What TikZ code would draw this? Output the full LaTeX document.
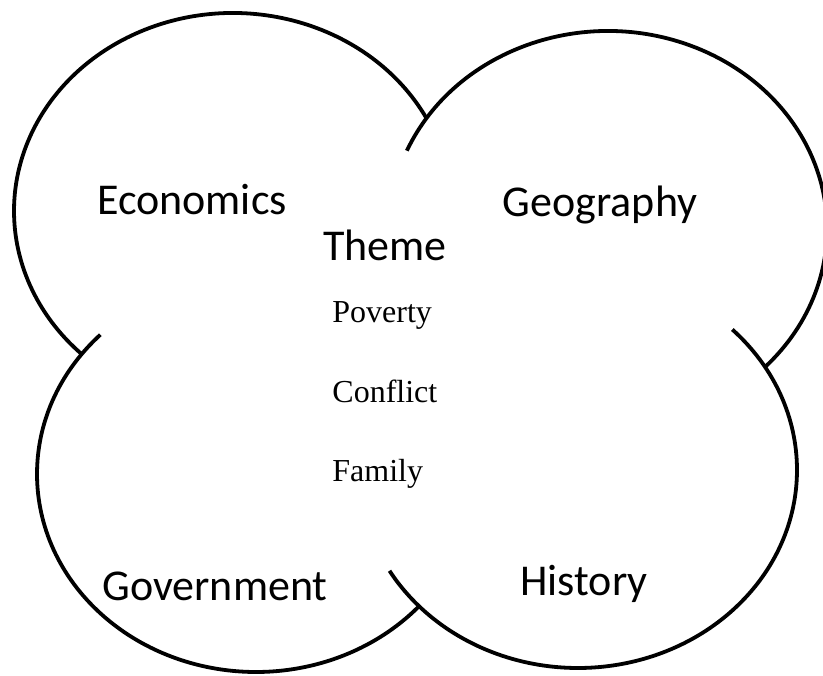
\documentclass[tikz,border=0pt]{standalone}
\usepackage{fontspec}
\setmainfont{Liberation Serif}
\newfontfamily\topicfont{Carlito}
\usetikzlibrary{positioning}

\begin{document}
\begin{tikzpicture}[
    x=0.5pt, y=0.5pt,
    lobe/.style={line width=1.9pt, x radius=219, y radius=198},
    topic/.style={font=\topicfont\fontsize{22}{26}\selectfont, anchor=base, inner sep=0pt},
    item/.style={font=\fontsize{16}{19}\selectfont, anchor=base west, inner sep=0pt}
  ]
    \useasboundingbox (0,0) rectangle (823,675);

    % centres of the four lobes
    \coordinate (tl) at (233,464);
    \coordinate (tr) at (608,446);
    \coordinate (bl) at (256,201);
    \coordinate (br) at (578,205);

    \draw[lobe] ([shift={(27.9:219 and 198)}]tl) arc[start angle=27.9, end angle=226.3];
    \draw[lobe] ([shift={(156.7:219 and 198)}]tr) arc[start angle=156.7, end angle=-44.2];
    \draw[lobe] ([shift={(45.2:219 and 198)}]br) arc[start angle=45.2, end angle=-149.4];
    \draw[lobe] ([shift={(135.3:219 and 198)}]bl) arc[start angle=135.3, end angle=318.1];

    \node[topic] (econ) at (192,460) {Economics};
    \node[topic] (geo) at (600,458) {Geography};
    \node[topic] (theme) at (385,414) {Theme};
    \node[topic] (gov) at (215,75) {Government};
    \node[topic] (hist) at (584,80) {History};

    \node[item] (poverty) at (332,352) {Poverty};
    \node[item] (conflict) at (332,273) {Conflict};
    \node[item] (family) at (332,194) {Family};
  \end{tikzpicture}
\end{document}
